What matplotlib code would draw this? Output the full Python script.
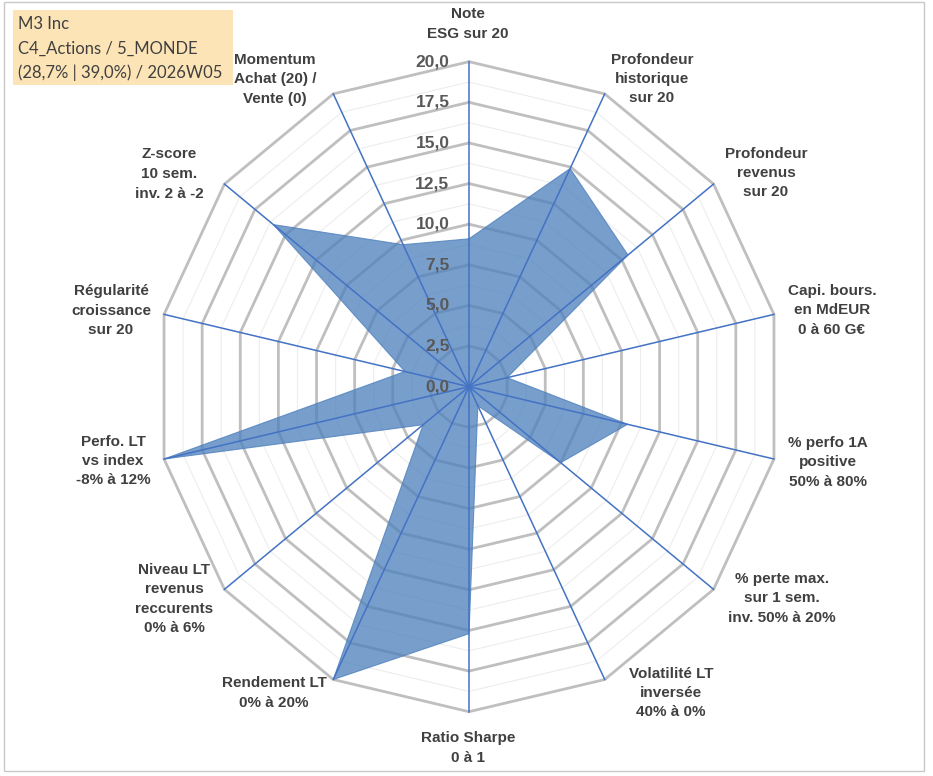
import numpy as np
import matplotlib
matplotlib.use("Agg")
import matplotlib.pyplot as plt
from matplotlib.patches import Rectangle

# Axis names, clockwise from the top
axes_labels = [
    "Note\nESG sur 20",
    "Profondeur\nhistorique\nsur 20",
    "Profondeur\nrevenus\nsur 20",
    "Capi. bours.\nen MdEUR\n0 à 60 G€",
    "% perfo 1A\npositive\n50% à 80%",
    "% perte max.\nsur 1 sem.\ninv. 50% à 20%",
    "Volatilité LT\ninversée\n40% à 0%",
    "Ratio Sharpe\n0 à 1",
    "Rendement LT\n0% à 20%",
    "Niveau LT\nrevenus\nreccurents\n0% à 6%",
    "Perfo. LT\nvs index\n-8% à 12%",
    "Régularité\ncroissance\nsur 20",
    "Z-score\n10 sem.\ninv. 2 à -2",
    "Momentum\nAchat (20) /\nVente (0)",
]
scores = [9.1, 14.9, 13.0, 2.5, 10.4, 7.5, 1.3, 15.2, 20.0, 3.75, 20.0, 4.2, 16.0, 9.7]
ring_ticks = [0.0, 2.5, 5.0, 7.5, 10.0, 12.5, 15.0, 17.5, 20.0]
ring_tick_labels = ["0,0", "2,5", "5,0", "7,5", "10,0", "12,5", "15,0", "17,5", "20,0"]
title_lines = ["M3 Inc", "C4_Actions / 5_MONDE", "(28,7% | 39,0%) / 2026W05"]

# label centres in pixels (from top-left of the picture)
label_pos = [(468, 24), (652, 79), (766, 173), (832, 310), (828, 462), (782, 598),
             (671, 693), (468, 748), (274, 693), (174, 599), (113, 461), (111, 311),
             (169, 174), (275, 79)]

W, H = 933, 776
cx, cy = 469, 386.7          # centre in pixels
sx, sy = 15.64, 16.25        # pixels per unit (picture is slightly squeezed)

fig = plt.figure(figsize=(W / 100, H / 100), dpi=100)
ax = fig.add_axes([0, 0, 1, 1])
ax.set_xlim(-cx / sx, (W - cx) / sx)
ax.set_ylim(-(H - cy) / sy, cy / sy)
ax.axis("off")

n = len(scores)
theta = np.arange(n) * 2 * np.pi / n
dx, dy = np.sin(theta), np.cos(theta)

# minor and major rings
for r in np.arange(1.25, 20.01, 1.25):
    major = abs(r / 2.5 - round(r / 2.5)) < 1e-6
    xs = np.append(r * dx, r * dx[0])
    ys = np.append(r * dy, r * dy[0])
    if major:
        ax.plot(xs, ys, color="#BFBFBF", lw=2.0, zorder=1, solid_joinstyle="miter")
    else:
        ax.plot(xs, ys, color="#EDEDED", lw=0.8, zorder=0.5)

# data polygon
vals = np.array(scores)
ax.fill(vals * dx, vals * dy, color="#4F81BD", alpha=0.77, lw=0, zorder=2)
ax.plot(np.append(vals * dx, vals[0] * dx[0]), np.append(vals * dy, vals[0] * dy[0]),
        color="#4F81BD", lw=0.8, alpha=0.8, zorder=2)

# spokes
for i in range(n):
    ax.plot([0, 20 * dx[i]], [0, 20 * dy[i]], color="#4472C4", lw=1.1, zorder=3)

# ring values
for v, t in zip(ring_ticks, ring_tick_labels):
    ax.text(-1.25, v, t, ha="right", va="center", fontsize=12.5, fontweight="bold",
            color="#595959", family="Liberation Sans", zorder=4)

# axis names
for lab, (px, py) in zip(axes_labels, label_pos):
    fig.text(px / W, 1 - py / H, lab, ha="center", va="center", fontsize=11,
             fontweight="bold", color="#404040", family="Liberation Sans",
             linespacing=1.5, multialignment="center")

# title box
fig.patches.append(Rectangle((13 / W, 1 - 85 / H), 220 / W, 75 / H, transform=fig.transFigure,
                             facecolor="#FCE4B6", edgecolor="none", zorder=5))
for k, line in enumerate(title_lines):
    fig.text(18 / W, 1 - (24 + k * 24.5) / H, line, ha="left", va="center", fontsize=12,
             color="#404040", family="Lato", zorder=6)

# outer frame
fig.patches.append(Rectangle((4 / W, 1 - 771 / H), 920 / W, 769 / H, transform=fig.transFigure,
                             facecolor="none", edgecolor="#C8C8C8", lw=1.0, zorder=0))

fig.savefig("out.png", dpi=100)
